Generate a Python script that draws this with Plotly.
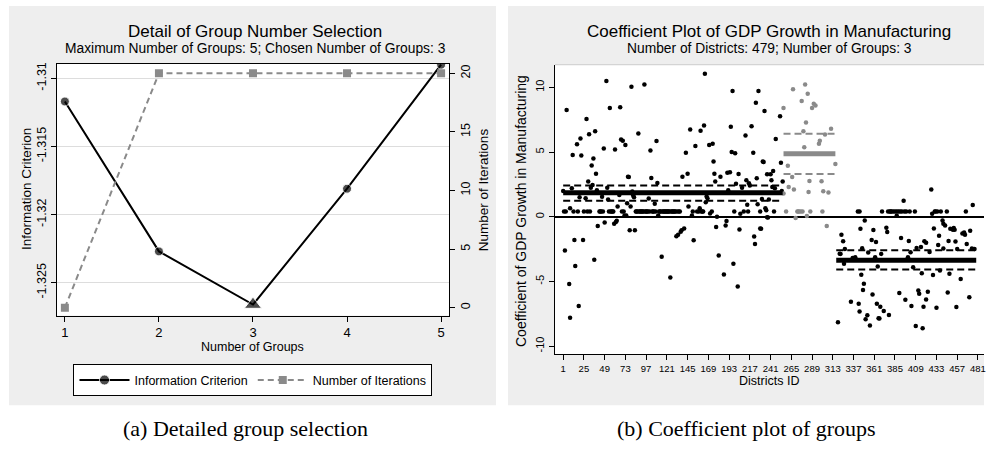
import plotly.graph_objects as go

# ---------------- Panel (a) data ----------------
groups = [1, 2, 3, 4, 5]
info_crit = [-1.3117, -1.3227, -1.3266, -1.3181, -1.3090]
n_iter = [0, 20, 20, 20, 20]
ic_symbols = ["circle", "circle", "triangle-up", "circle", "circle"]
ic_sizes = [9, 9, 15, 9, 9]
ic_ticks = [-1.325, -1.32, -1.315, -1.31]
ic_ticktext = ["-1.325", "-1.32", "-1.315", "-1.31"]
iter_ticks = [0, 5, 10, 15, 20]

# ---------------- Panel (b) data ----------------
g1_ids = [1, 2, 3, 4, 5, 8, 9, 9, 11, 12, 13, 14, 15, 17, 18, 19, 20, 21, 22, 24,
          25, 27, 28, 29, 30, 31, 32, 33, 34, 35, 36, 37, 38, 39, 40, 41, 43, 44, 45, 46,
          47, 48, 49, 51, 52, 53, 54, 55, 56, 57, 58, 59, 60, 61, 62, 63, 64, 66, 67, 68,
          69, 70, 71, 72, 73, 74, 75, 76, 77, 78, 79, 80, 81, 82, 83, 84, 85, 86, 87, 88,
          89, 90, 91, 92, 93, 94, 95, 96, 97, 98, 99, 100, 101, 102, 103, 104, 105, 106, 107, 108,
          109, 110, 111, 112, 113, 114, 115, 116, 117, 118, 119, 120, 121, 122, 123, 124, 125, 126, 127, 128,
          129, 130, 131, 132, 133, 134, 135, 136, 137, 138, 139, 141, 143, 145, 146, 148, 150, 151, 152, 154,
          156, 158, 159, 160, 161, 162, 163, 164, 165, 166, 167, 168, 170, 171, 173, 174, 175, 176, 177, 178,
          179, 181, 183, 187, 189, 190, 191, 192, 194, 195, 196, 197, 198, 199, 200, 201, 203, 204, 205, 206,
          208, 210, 212, 213, 214, 215, 216, 217, 219, 221, 222, 223, 224, 225, 226, 227, 229, 230, 231, 233,
          234, 235, 236, 237, 238, 239, 241, 242, 244, 245, 246, 247, 252, 253, 254, 255, 229, 232, 237, 243]
g1_vals = [2.0, 0.4, -2.6, 0.4, 8.25, -5.2, -7.8, 0.66, 2.2, 4.77, 0.4, -1.8, -3.8, 5.6, 0.4, -6.9, 1.5, 6.05, 4.74, -1.8,
           0.4, 1.43, 7.56, 0.4, 2.72, 6.38, 0.4, 2.25, 3.97, 2.46, 4.5, -3.33, 6.6, 3.33, 2.05, -0.72, 0.4, 0.4, 0.4, 1.54,
           0.4, 5.28, -0.44, 10.5, 2.25, 1.33, 0.4, 8.4, 0.4, 0.4, 0.4, 0.4, -0.54, 5.2, -0.4, -0.3, 0.79, 1.69, 8.46, 5.97,
           0.4, 5.87, 0.4, 0.1, 5.54, 0.1, 1.05, 3.1, 3.07, -1.05, 0.79, 10.05, 1.95, 1.64, 1.5, -1.05, 0.4, 0.4, 0.4, 6.43,
           0.4, 0.4, 0.4, 0.4, 0.4, 0.4, 10.23, 0.4, 0.4, 0.4, 0.4, 1.41, 0.4, 5.13, 3.0, 0.4, 0.4, 0.4, 1.0, 0.4,
           5.85, 2.6, 0.1, 0.4, 0.4, 0.4, -3.1, 0.4, 0.4, 0.4, 0.4, 0.4, 0.4, 0.4, 0.4, 0.4, -4.7, 0.4, 0.4, 0.4,
           0.4, 0.4, 0.4, -1.5, 0.4, -1.4, 0.4, 0.4, -1.15, -1.05, 3.1, -0.9, 4.95, 3.33, 0.79, 6.74, 0.1, 0.4, -1.82, 5.46,
           0.4, 0.4, 0.66, 6.64, 0.4, 0.4, 0.4, 7.05, 11.05, 1.13, 1.56, 1.43, 5.54, 0.25, 0.4, 5.64, 4.28, 3.33, 2.72, -0.8,
           0.0, -3.0, 3.1, -4.46, -0.67, -0.33, 3.41, 2.05, 3.43, 6.95, 5.0, 9.72, -3.64, 0.4, 4.9, 2.56, -5.39, 3.3, -0.98, 0.23,
           2.25, 0.4, 6.28, 2.82, 0.92, 0.4, 2.59, 2.41, 7.0, 4.95, -1.52, -2.1, 8.82, 2.97, 0.97, 9.72, 0.4, -0.93, 1.38, 4.23,
           8.18, 0.66, 0.51, 3.28, -0.05, 1.33, 3.28, 2.82, 3.54, 0.4, 2.2, 6.0, 7.77, 4.18, 2.0, 2.72, -0.9, 4.28, -0.03, 2.3]

g2_ids = [256, 256, 259, 261, 262, 266, 267, 268, 270, 272, 273, 274, 276, 277, 278, 279, 280, 281, 282, 283,
          284, 285, 286, 287, 289, 291, 293, 297, 298, 300, 301, 302, 304, 306, 308, 311, 316]
g2_vals = [8.4, 1.8, 0.4, 3.95, 2.3, 3.07, 9.85, 2.1, -0.1, 0.4, 0.4, 0.4, 0.4, 8.95, 0.4, 6.6, 5.38, 10.23, 7.28, 0.05,
           9.5, 1.92, 2.77, 0.4, 8.41, 8.74, 8.59, 5.64, 5.87, 2.74, 0.4, 1.97, 6.36, -0.72, 1.87, 6.8, 4.07]

g3_ids = [319, 321, 322, 323, 325, 326, 327, 334, 336, 339, 342, 343, 344, 344, 345, 346, 347, 348, 349, 350,
          351, 353, 354, 356, 358, 359, 360, 362, 363, 364, 365, 366, 367, 368, 369, 370, 372, 375, 376, 377,
          378, 379, 381, 383, 385, 387, 387, 389, 390, 391, 392, 393, 395, 396, 397, 398, 400, 401, 402, 403,
          404, 406, 408, 409, 410, 412, 413, 415, 416, 417, 418, 419, 421, 421, 423, 425, 427, 428, 429, 430,
          431, 432, 433, 434, 435, 436, 437, 440, 441, 441, 443, 445, 446, 447, 448, 452, 453, 455, 456, 457,
          461, 465, 466, 467, 468, 471, 472, 474, 475, 477, 380, 438, 449, 454, 463]
g3_vals = [-8.15, -2.85, -2.87, -1.39, -1.9, -3.64, -2.5, -6.57, -3.18, -3.13, 0.4, -6.72, -7.33, 0.4, -0.93, -4.49, -2.44, -5.67, -5.18, -0.28,
           -7.92, -7.62, -2.77, -8.41, -1.8, -6.0, -1.03, -3.13, -1.95, -6.72, -3.85, -7.85, -7.87, -6.95, -2.87, 0.4, -7.28, -0.85, -1.18, 0.4,
           -7.59, 0.4, 0.4, 0.4, 0.4, 0.4, 0.07, 0.4, -5.9, 0.4, -1.64, 0.4, 1.23, 0.4, -6.41, 0.4, -3.13, -1.87, 0.4, -2.75,
           -6.9, -3.9, 0.4, -8.44, -2.41, -5.7, -5.95, -2.33, -4.36, -8.62, -6.95, -1.9, -2.0, -6.39, -5.8, -2.72, 2.1, 0.23, -4.5, -0.9,
           0.4, 0.4, -7.03, 0.4, -2.18, -1.46, -4.16, -0.28, -2.46, -0.54, -0.67, 0.4, -5.85, -1.87, -4.41, -1.0, -0.87, -1.92, -6.98, -2.49,
           -4.82, -1.21, -1.39, 0.4, -2.1, -6.23, -1.08, -2.46, 0.9, -2.49, 0.4, 0.4, -0.93, -1.0, -1.3]

group_start = [1, 256, 317]
group_end = [255, 316, 479]
group_coef = [1.85, 4.87, -3.36]
group_hi = [2.41, 6.41, -2.59]
group_lo = [1.23, 3.31, -4.08]
group_color = ["black", "#8a8a8a", "black"]
district_ticks = [1, 25, 49, 73, 97, 121, 145, 169, 193, 217, 241, 265, 289, 313, 337, 361, 385, 409, 433, 457, 481]
coef_ticks = [-10, -5, 0, 5, 10]
coef_ticktext = ["-10", "-5", "0", "5", "10"]

W, H = 986, 450
def px(x):
    return x / W
def py(y):
    return 1 - y / H

BG = "#eeeeee"
GRAY = "#8a8a8a"
FONT = "Liberation Sans, Arial, sans-serif"

fig = go.Figure()

# Panel (a)
fig.add_trace(go.Scatter(
    x=groups, y=info_crit, mode="lines+markers", name="Information Criterion",
    line=dict(color="black", width=2),
    marker=dict(color="black", symbol=ic_symbols, size=ic_sizes),
    xaxis="x", yaxis="y"))
fig.add_trace(go.Scatter(
    x=groups, y=n_iter, mode="lines+markers", name="Number of Iterations",
    line=dict(color=GRAY, width=2, dash="6px,4px"),
    marker=dict(color=GRAY, symbol="square", size=8),
    xaxis="x", yaxis="y2"))

# Panel (b) points
for ids, vals, col in [(g1_ids, g1_vals, "black"), (g2_ids, g2_vals, GRAY), (g3_ids, g3_vals, "black")]:
    fig.add_trace(go.Scatter(
        x=ids, y=vals, mode="markers", showlegend=False,
        marker=dict(color=col, size=4.5, line=dict(width=0)),
        xaxis="x2", yaxis="y3"))

# Panel (b) group estimates and intervals
for s, e, c, hi, lo, col in zip(group_start, group_end, group_coef, group_hi, group_lo, group_color):
    fig.add_trace(go.Scatter(x=[s, e], y=[c, c], mode="lines", showlegend=False,
                             line=dict(color=col, width=5), xaxis="x2", yaxis="y3"))
    for v in (hi, lo):
        fig.add_trace(go.Scatter(x=[s, e], y=[v, v], mode="lines", showlegend=False,
                                 line=dict(color=col, width=2, dash="7px,4px"), xaxis="x2", yaxis="y3"))

axis_common = dict(showline=True, linecolor="black", linewidth=1, ticks="outside",
                   ticklen=5, tickcolor="black", zeroline=False, showgrid=False,
                   tickfont=dict(family=FONT, size=12.5, color="black"))

fig.update_layout(
    width=W, height=H, margin=dict(l=0, r=0, t=0, b=0),
    paper_bgcolor="white", plot_bgcolor="white",
    font=dict(family=FONT, color="black"),
    xaxis=dict(domain=[px(57), px(450)], range=[0.915, 5.085], tickvals=groups,
               anchor="y", mirror=True, **{**axis_common, "tickfont": dict(family=FONT, size=13, color="black")}),
    yaxis=dict(domain=[py(315), py(62)], range=[-1.32741, -1.30893],
               tickvals=ic_ticks, ticktext=ic_ticktext, tickangle=-90,
               anchor="x", **{**axis_common, "showgrid": True}, gridcolor="#dddddd"),
    yaxis2=dict(overlaying="y", side="right", range=[-0.68, 20.82], tickvals=iter_ticks,
                tickangle=-90, anchor="x", **axis_common),
    xaxis2=dict(domain=[px(556), 1.0], range=[-8.6, 488], tickvals=district_ticks,
                anchor="y3", ticklabeloverflow="allow",
                **{**axis_common, "tickfont": dict(family=FONT, size=9.5, color="black")}),
    yaxis3=dict(domain=[py(354), py(63)], range=[-10.64, 11.75], tickvals=coef_ticks,
                ticktext=coef_ticktext, tickangle=-90, anchor="x2",
                **{**axis_common, "zeroline": True, "tickfont": dict(family=FONT, size=11, color="black")},
                zerolinecolor="black", zerolinewidth=1.6),
    legend=dict(orientation="h", x=px(253.5), xanchor="center", y=py(364), yanchor="top",
                bordercolor="black", borderwidth=1, bgcolor="white",
                font=dict(family=FONT, size=12.5, color="black"), itemwidth=50),
    shapes=[
        dict(type="rect", xref="paper", yref="paper", x0=px(9), x1=px(497), y0=py(405), y1=py(4),
             fillcolor=BG, line=dict(width=0), layer="below"),
        dict(type="rect", xref="paper", yref="paper", x0=px(509), x1=1.0, y0=py(405), y1=py(4),
             fillcolor=BG, line=dict(width=0), layer="below"),
        dict(type="rect", xref="x domain", yref="y domain", x0=0, x1=1, y0=0, y1=1,
             fillcolor="white", line=dict(width=0), layer="below"),
        dict(type="rect", xref="x2 domain", yref="y3 domain", x0=0, x1=1, y0=0, y1=1,
             fillcolor="white", line=dict(width=0), layer="below"),
        dict(type="line", xref="x2 domain", yref="y3 domain", x0=0, x1=1, y0=1, y1=1,
             line=dict(color="#cccccc", width=1)),
    ],
)

ann = []
def add_text(x, y, text, size, angle=0, family=FONT):
    ann.append(dict(x=px(x), y=py(y), xref="paper", yref="paper", text=text, showarrow=False,
                    xanchor="center", yanchor="middle", textangle=angle,
                    font=dict(family=family, size=size, color="black")))

add_text(256, 30, "Detail of Group Number Selection", 17)
add_text(256, 47, "Maximum Number of Groups: 5; Chosen Number of Groups: 3", 13.8)
add_text(771, 30, "Coefficient Plot of GDP Growth in Manufacturing", 17)
add_text(771, 47, "Number of Districts: 479; Number of Groups: 3", 13.8)
add_text(26, 188, "Information Criterion", 13.5, -90)
add_text(484, 189, "Number of Iterations", 13.5, -90)
add_text(253, 347, "Number of Groups", 12.5)
add_text(522, 210, "Coefficient of GDP Growth in Manufacturing", 14, -90)
add_text(771, 381, "Districts ID", 12.5)
add_text(246, 428, "(a) Detailed group selection", 22, family="Liberation Serif, serif")
add_text(748, 428, "(b) Coefficient plot of groups", 22, family="Liberation Serif, serif")
fig.update_layout(annotations=ann)

fig.write_html("out.html")
